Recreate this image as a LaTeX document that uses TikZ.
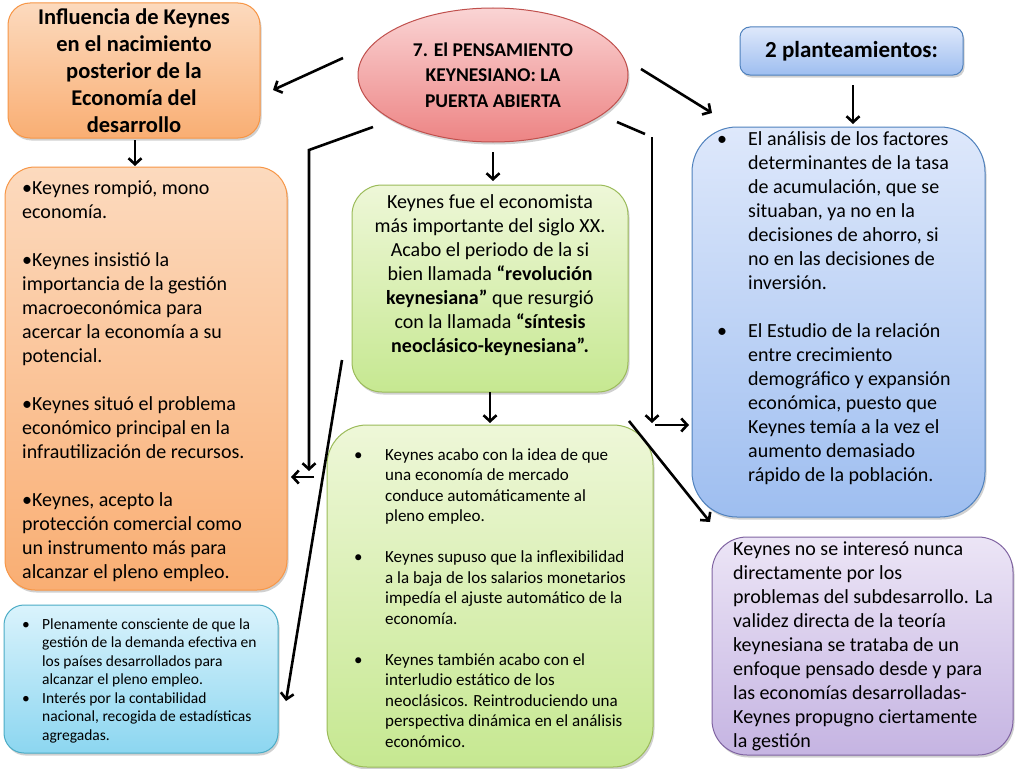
\documentclass[tikz,border=0pt]{standalone}
\usepackage{fontspec}
\setmainfont{Carlito}
\usetikzlibrary{arrows.meta,shadows,shapes.geometric}
\definecolor{orTop}{RGB}{252,218,190}
\definecolor{orBot}{RGB}{249,174,115}
\definecolor{orLine}{RGB}{247,150,70}
\definecolor{grTop}{RGB}{238,247,216}
\definecolor{grBot}{RGB}{198,232,145}
\definecolor{grLine}{RGB}{155,187,89}
\definecolor{blTop}{RGB}{222,232,251}
\definecolor{blBot}{RGB}{158,190,240}
\definecolor{blLine}{RGB}{79,129,189}
\definecolor{cyTop}{RGB}{218,243,252}
\definecolor{cyBot}{RGB}{140,214,240}
\definecolor{cyLine}{RGB}{75,172,198}
\definecolor{puTop}{RGB}{236,229,246}
\definecolor{puBot}{RGB}{197,180,226}
\definecolor{puLine}{RGB}{128,100,162}
\definecolor{pkTop}{RGB}{250,212,212}
\definecolor{pkBot}{RGB}{237,132,132}
\definecolor{pkLine}{RGB}{192,80,77}
\newcommand\bl[1]{\makebox[#1][l]{\textbullet}}
\newcommand\ind[1]{\hspace*{#1}}
\tikzset{
  box/.style={draw, line width=1pt, rounded corners=#1, inner sep=0pt,
    drop shadow={opacity=0.3, shadow xshift=1.5pt, shadow yshift=-2.5pt, fill=black!60}},
  orbox/.style={box=#1, draw=orLine, top color=orTop, bottom color=orBot},
  grbox/.style={box=#1, draw=grLine, top color=grTop, bottom color=grBot},
  blbox/.style={box=#1, draw=blLine, top color=blTop, bottom color=blBot},
  cybox/.style={box=#1, draw=cyLine, top color=cyTop, bottom color=cyBot},
  pubox/.style={box=#1, draw=puLine, top color=puTop, bottom color=puBot},
  txt/.style={inner sep=0pt, align=left, anchor=west},
  arr/.style={line width=2.6pt, -{Straight Barb[length=6pt,width=13pt]}},
  seg/.style={line width=2.6pt},
}
\begin{document}
\begin{tikzpicture}[x=1pt,y=-1pt]
\fill[white] (0,0) rectangle (1024,768);
\useasboundingbox (0,0) rectangle (1024,768);

% top-left box
\node[orbox=22, minimum width=252pt, minimum height=135pt, align=center,
  font=\bfseries\fontsize{22.5}{27}\selectfont] (infl) at (134,70.5)
  {Influencia de Keynes\\en el nacimiento\\posterior de la\\Economía del\\desarrollo};

% ellipse
\node[ellipse, draw=pkLine, line width=1pt, top color=pkTop, bottom color=pkBot,
  minimum width=270pt, minimum height=134pt, inner sep=0pt, align=center,
  drop shadow={opacity=0.3, shadow xshift=1.5pt, shadow yshift=-2.5pt, fill=black!60},
  font=\bfseries\fontsize{19.5}{25.5}\selectfont] (main) at (493,75)
  {7. El PENSAMIENTO\\KEYNESIANO: LA\\PUERTA ABIERTA};

% 2 planteamientos
\node[blbox=10, minimum width=223pt, minimum height=48pt,
  font=\bfseries\fontsize{23}{26}\selectfont] (plan) at (851.5,51) {2 planteamientos:};

% left orange box
\node[orbox=30, minimum width=282pt, minimum height=423pt] (lbox) at (146,378.5) {};
\node[txt, font=\fontsize{20}{24}\selectfont] (ltext) at (22,381)
  {\textbullet Keynes rompió, mono\\economía.\\[24pt]%
   \textbullet Keynes insistió la\\importancia de la gestión\\macroeconómica para\\acercar la economía a su\\potencial.\\[24pt]%
   \textbullet Keynes situó el problema\\económico principal en la\\infrautilización de recursos.\\[24pt]%
   \textbullet Keynes, acepto la\\protección comercial como\\un instrumento más para\\alcanzar el pleno empleo.};

% middle green box
\node[grbox=30, minimum width=276pt, minimum height=207pt] (gmid) at (490,288.5) {};
\node[inner sep=0pt, align=center, font=\fontsize{20}{24}\selectfont] (gmidt) at (490,275)
  {Keynes fue el economista\\más importante del siglo XX.\\Acabo el periodo de la si\\
   bien llamada \textbf{“revolución}\\\textbf{keynesiana”} que resurgió\\
   con la llamada \textbf{“síntesis}\\\textbf{neoclásico-keynesiana”.}};

% bottom green box
\node[grbox=40, minimum width=326pt, minimum height=342pt] (gbot) at (490,596) {};
\node[txt, font=\fontsize{17}{20.5}\selectfont] (gbott) at (354,598)
  {\bl{31pt}Keynes acabo con la idea de que\\\ind{31pt}una economía de mercado\\\ind{31pt}conduce automáticamente al\\\ind{31pt}pleno empleo.\\[20.5pt]%
   \bl{31pt}Keynes supuso que la inflexibilidad\\\ind{31pt}a la baja de los salarios monetarios\\\ind{31pt}impedía el ajuste automático de la\\\ind{31pt}economía.\\[20.5pt]%
   \bl{31pt}Keynes también acabo con el\\\ind{31pt}interludio estático de los\\\ind{31pt}neoclásicos. Reintroduciendo una\\\ind{31pt}perspectiva dinámica en el análisis\\\ind{31pt}económico.};

% right blue box
\node[blbox=45, minimum width=293pt, minimum height=390pt] (rbox) at (838.5,322) {};
\node[txt, font=\fontsize{20}{24}\selectfont] (rtext) at (717,308)
  {\bl{31pt}El análisis de los factores\\\ind{31pt}determinantes de la tasa\\\ind{31pt}de acumulación, que se\\\ind{31pt}situaban, ya no en la\\\ind{31pt}decisiones de ahorro, si\\\ind{31pt}no en las decisiones de\\\ind{31pt}inversión.\\[24pt]%
   \bl{31pt}El Estudio de la relación\\\ind{31pt}entre crecimiento\\\ind{31pt}demográfico y expansión\\\ind{31pt}económica, puesto que\\\ind{31pt}Keynes temía a la vez el\\\ind{31pt}aumento demasiado\\\ind{31pt}rápido de la población.};

% purple box
\node[pubox=35, minimum width=301pt, minimum height=218pt] (pbox) at (862.5,646) {};
\node[txt, font=\fontsize{20}{24}\selectfont] (ptext) at (733,646.5)
  {Keynes no se interesó nunca\\directamente por los\\problemas del subdesarrollo. La\\validez directa de la teoría\\keynesiana se trataba de un\\enfoque pensado desde y para\\las economías desarrolladas-\\Keynes propugno ciertamente\\la gestión};

% cyan box
\node[cybox=20, minimum width=274pt, minimum height=148pt] (cbox) at (141,679) {};
\node[txt, font=\fontsize{15.5}{18.5}\selectfont] (ctext) at (22,680.5)
  {\bl{20pt}Plenamente consciente de que la\\\ind{20pt}gestión de la demanda efectiva en\\\ind{20pt}los países desarrollados para\\\ind{20pt}alcanzar el pleno empleo.\\%
   \bl{20pt}Interés por la contabilidad\\\ind{20pt}nacional, recogida de estadísticas\\\ind{20pt}agregadas.};

% connector coordinates
\coordinate (a1) at (343,58);   \coordinate (a2) at (273,90);
\coordinate (b1) at (135,140);  \coordinate (b2) at (135,166);
\coordinate (c1) at (373,127);  \coordinate (c2) at (309,150);  \coordinate (c3) at (309,471);
\coordinate (c4) at (314,477);  \coordinate (c5) at (291,477);
\coordinate (d1) at (493,152);  \coordinate (d2) at (493,181);
\coordinate (e1) at (641,69);   \coordinate (e2) at (712,113);
\coordinate (f1) at (853,85);   \coordinate (f2) at (853,124);
\coordinate (g1) at (617,122);  \coordinate (g2) at (645,134);
\coordinate (g3) at (652,137);  \coordinate (g4) at (652,423);
\coordinate (g5) at (655,425);  \coordinate (g6) at (689,425);
\coordinate (h1) at (490,392);  \coordinate (h2) at (490,423);
\coordinate (i1) at (629,421);  \coordinate (i2) at (710,522);
\coordinate (j1) at (342,360);  \coordinate (j2) at (286,701);

\draw[arr] (a1) -- (a2);
\draw[arr] (b1) -- (b2);
\draw[arr] (c1) -- (c2) -- (c3);
\draw[arr] (c4) -- (c5);
\draw[arr] (d1) -- (d2);
\draw[arr] (e1) -- (e2);
\draw[arr] (f1) -- (f2);
\draw[seg] (g1) -- (g2);
\draw[arr] (g3) -- (g4);
\draw[arr] (g5) -- (g6);
\draw[arr] (h1) -- (h2);
\draw[arr] (i1) -- (i2);
\draw[arr] (j1) -- (j2);
\end{tikzpicture}
\end{document}
